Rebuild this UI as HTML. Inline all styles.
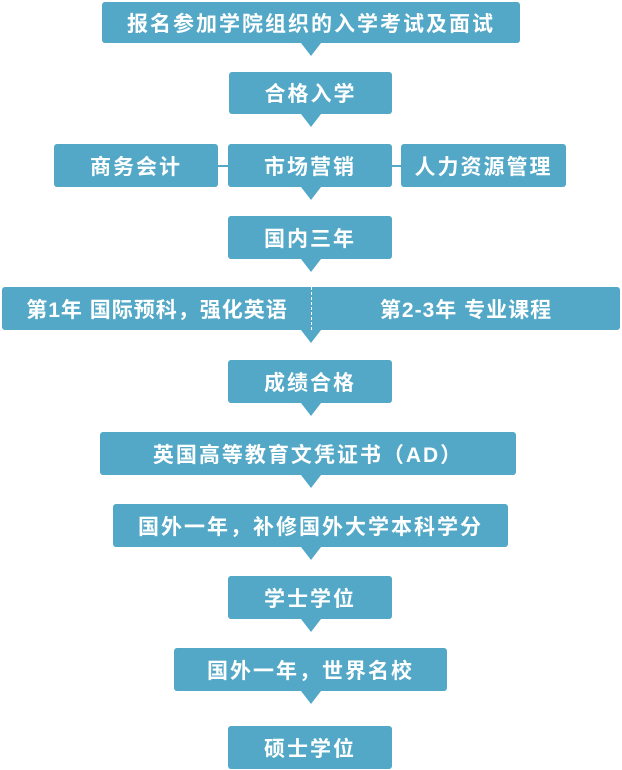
<!DOCTYPE html>
<html><head><meta charset="utf-8"><style>
body{margin:0;width:622px;height:770px;background:#fff;position:relative;overflow:hidden;font-family:"Liberation Sans","Noto Sans CJK SC",sans-serif;}
.b{position:absolute;background:#52a8c6;color:#fff;border-radius:3px;display:flex;align-items:center;justify-content:center;font-size:21px;font-weight:bold;letter-spacing:2px;}
.a{position:absolute;width:0;height:0;border-left:10px solid transparent;border-right:10px solid transparent;border-top:13px solid #52a8c6;}
.l{position:absolute;height:2px;background:#52a8c6;top:165px;}
</style></head><body>
<div class="b" style="left:102px;top:2px;width:418px;height:41px">报名参加学院组织的入学考试及面试</div>
<div class="a" style="left:301px;top:43px"></div>
<div class="b" style="left:229px;top:72px;width:163px;height:42px">合格入学</div>
<div class="a" style="left:301px;top:114px"></div>
<div class="b" style="left:54px;top:144px;width:164px;height:43px">商务会计</div>
<div class="l" style="left:218px;width:10px"></div>
<div class="b" style="left:228px;top:144px;width:164px;height:43px">市场营销</div>
<div class="l" style="left:392px;width:9px"></div>
<div class="b" style="left:401px;top:144px;width:165px;height:43px">人力资源管理</div>
<div class="a" style="left:301px;top:187px"></div>
<div class="b" style="left:228px;top:216px;width:164px;height:43px">国内三年</div>
<div class="a" style="left:301px;top:259px"></div>
<div class="b" style="left:2px;top:287px;width:310px;height:43px;border-radius:3px 0 0 3px;letter-spacing:1px">第1年 国际预科，强化英语</div>
<div class="b" style="left:312px;top:287px;width:308px;height:43px;border-radius:0 3px 3px 0;letter-spacing:1px">第2-3年 专业课程</div>
<div style="position:absolute;left:311px;top:287px;height:43px;border-left:1px dashed #fff"></div>
<div class="a" style="left:301px;top:330px"></div>
<div class="b" style="left:228px;top:360px;width:164px;height:43px">成绩合格</div>
<div class="a" style="left:301px;top:403px"></div>
<div class="b" style="left:100px;top:432px;width:416px;height:43px">英国高等教育文凭证书（AD）</div>
<div class="a" style="left:301px;top:475px"></div>
<div class="b" style="left:113px;top:504px;width:395px;height:43px">国外一年，补修国外大学本科学分</div>
<div class="a" style="left:301px;top:547px"></div>
<div class="b" style="left:228px;top:576px;width:164px;height:43px">学士学位</div>
<div class="a" style="left:301px;top:619px"></div>
<div class="b" style="left:174px;top:648px;width:273px;height:43px">国外一年，世界名校</div>
<div class="a" style="left:301px;top:691px"></div>
<div class="b" style="left:228px;top:726px;width:164px;height:43px">硕士学位</div>
</body></html>
